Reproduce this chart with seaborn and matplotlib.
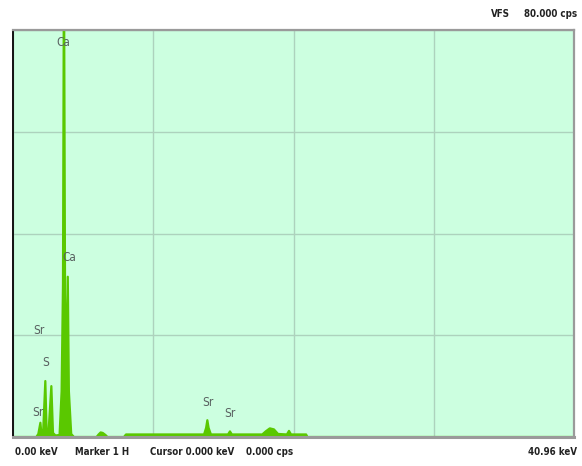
import matplotlib
matplotlib.use("Agg")
import matplotlib.pyplot as plt
import seaborn as sns
import pandas as pd
from matplotlib import font_manager

# EDS spectrum (energy in keV, intensity in cps)
energy_kev = [0.00, 1.70, 1.85, 2.00, 2.08, 2.20, 2.36, 2.45, 2.60, 2.80, 2.92,
              3.10, 3.40, 3.55, 3.65, 3.72, 3.80, 3.90, 4.00, 4.08, 4.25, 4.45,
              6.10, 6.25, 6.40, 6.55, 6.75, 6.90, 8.10, 8.25, 13.95, 14.10,
              14.19, 14.28, 14.45, 15.70, 15.84, 15.98, 18.20, 18.45, 18.75,
              19.05, 19.35, 20.00, 20.15, 20.30, 21.40, 21.50, 40.96]
counts_cps = [0, 0, 600, 2800, 500, 900, 11000, 1500, 1200, 10000, 800,
              300, 400, 9000, 30000, 96000, 28000, 11000, 31500, 9000, 600, 0,
              0, 500, 900, 800, 400, 0, 0, 500, 500, 1800,
              3300, 1800, 500, 500, 1100, 500, 500, 1100, 1700,
              1500, 600, 500, 1200, 500, 500, 0, 0]

# Peak identification labels
peak_labels = ["Ca", "Ca", "Sr", "S", "Sr", "Sr", "Sr"]
label_kev = [3.70, 4.11, 1.92, 2.36, 1.83, 14.20, 15.85]
label_cps = [77500, 35200, 21000, 14700, 4900, 6700, 4700]

full_scale_cps = 80000
range_kev = 40.96

footer_left = ["0.00 keV", "Marker 1 H", "Cursor 0.000 keV", "0.000 cps"]
footer_left_x = [15, 75, 150, 246]
footer_right = "40.96 keV"
header_text = ["VFS", "80.000 cps"]

sns.set_theme(style="white")

# Prefer a narrow face for the instrument-style text
installed = {f.name for f in font_manager.fontManager.ttflist}
if "Liberation Sans Narrow" in installed:
    plt.rcParams["font.family"] = ["Liberation Sans Narrow", "DejaVu Sans"]
    narrow_stretch = "normal"
else:
    plt.rcParams["font.family"] = ["DejaVu Sans", "Liberation Sans"]
    narrow_stretch = "condensed"

spec = pd.DataFrame({"energy": energy_kev, "cps": counts_cps})

W, H = 582, 466
fig = plt.figure(figsize=(W / 100, H / 100), dpi=100)
fig.patch.set_facecolor("white")
ax = fig.add_axes([13 / W, (H - 437) / H, 561 / W, 407 / H])
ax.set_facecolor("#ccffe0")

green = "#5ac800"
ax.fill_between(spec["energy"], 0, spec["cps"], color=green, linewidth=0)
sns.lineplot(data=spec, x="energy", y="cps", ax=ax, color=green,
             linewidth=1.6, estimator=None, sort=False)

ax.set_xlim(0, range_kev)
ax.set_ylim(0, full_scale_cps)
ax.set_xticks([range_kev * i / 4 for i in range(5)])
ax.set_yticks([full_scale_cps * i / 4 for i in range(5)])
ax.grid(True, color="#add2bd", linewidth=1.0)
ax.set_axisbelow(True)
ax.tick_params(left=False, bottom=False, labelleft=False, labelbottom=False)
ax.set_xlabel("")
ax.set_ylabel("")

for side in ["top", "bottom", "right"]:
    ax.spines[side].set_color("#9a9a9a")
    ax.spines[side].set_linewidth(1.6)
ax.spines["left"].set_color("#111111")
ax.spines["left"].set_linewidth(1.4)
ax.spines["bottom"].set_linewidth(2.2)

for txt, ex, cy in zip(peak_labels, label_kev, label_cps):
    ax.text(ex, cy, txt, ha="center", va="center", fontsize=8.5,
            color="#586060", fontstretch=narrow_stretch)

# Header and footer status lines
status = dict(fontsize=7, fontweight="bold", color="#222222",
              fontstretch=narrow_stretch, va="center")
fig.text(510 / W, 1 - 14 / H, header_text[0], ha="right", **status)
fig.text(577 / W, 1 - 14 / H, header_text[1], ha="right", **status)
for txt, px in zip(footer_left, footer_left_x):
    fig.text(px / W, 1 - 452 / H, txt, ha="left", **status)
fig.text(577 / W, 1 - 452 / H, footer_right, ha="right", **status)

fig.savefig("out.png", dpi=100)
